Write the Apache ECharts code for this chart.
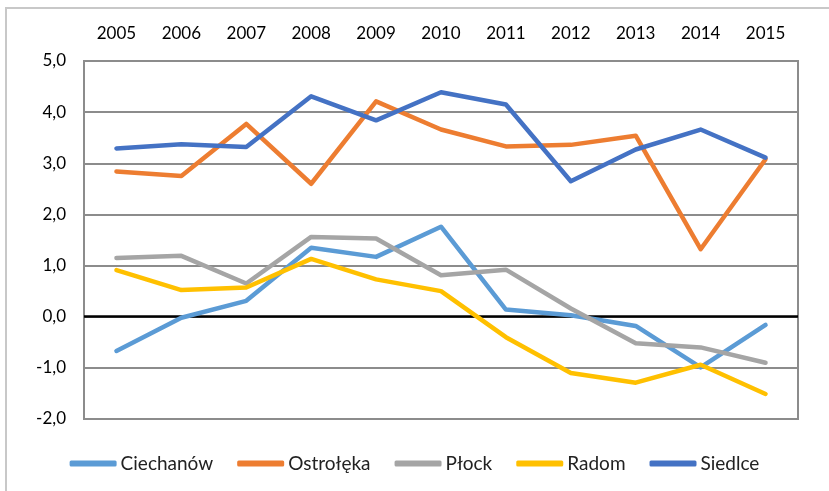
<!DOCTYPE html>
<html><head><meta charset="utf-8">
<script src="https://cdn.jsdelivr.net/npm/echarts@6/dist/echarts.min.js"></script>
<style>html,body{margin:0;padding:0;background:#fff}#c{width:829px;height:491px}</style>
</head><body><div id="c"></div>
<script>
const years = ['2005','2006','2007','2008','2009','2010','2011','2012','2013','2014','2015'];
const ciechanow = [-0.67,-0.02,0.31,1.35,1.17,1.76,0.14,0.03,-0.18,-0.99,-0.16];
const ostroleka = [2.84,2.75,3.77,2.60,4.21,3.66,3.33,3.36,3.54,1.32,3.08];
const plock = [1.15,1.19,0.65,1.56,1.53,0.81,0.92,0.16,-0.52,-0.60,-0.90];
const radom = [0.91,0.52,0.57,1.13,0.73,0.50,-0.40,-1.10,-1.29,-0.94,-1.51];
const siedlce = [3.29,3.37,3.32,4.31,3.84,4.39,4.15,2.65,3.27,3.66,3.11];
const names = ['Ciechanów','Ostrołęka','Płock','Radom','Siedlce'];
const colors = ['#5B9BD5','#ED7D31','#A5A5A5','#FFC000','#4472C4'];
const values = [ciechanow, ostroleka, plock, radom, siedlce];
const FONT = 'Lato';
const chart = echarts.init(document.getElementById('c'));
const series = names.map((n,i)=>({
  name:n, type:'line', data:values[i], showSymbol:false, symbol:'none',
  lineStyle:{width:4.5, color:colors[i], cap:'round', join:'round'}, itemStyle:{color:colors[i]},
  z: 3,
  markLine: i===0 ? {silent:true, symbol:'none', label:{show:false}, lineStyle:{color:'#000', width:2.5, type:'solid'}, data:[{yAxis:0}], z:2} : undefined
}));
chart.setOption({
  animation:false,
  graphic:[{type:'rect', shape:{x:6,y:8,width:840,height:500}, style:{fill:'none', stroke:'#c8c8c8', lineWidth:2}, silent:true}],
  grid:{left:84, right:31, top:61, bottom:72, show:true, borderColor:'#8c8c8c', borderWidth:2, backgroundColor:'transparent'},
  legend:{top:449, left:'center', itemGap:24, itemWidth:47, itemHeight:6, icon:'roundRect',
    textStyle:{fontFamily:FONT, fontSize:19, color:'#222', padding:[0,0,0,-1]}, data:names},
  xAxis:{type:'category', data:years, position:'top', boundaryGap:true,
    axisLine:{show:false}, axisTick:{show:false},
    axisLabel:{fontFamily:FONT, fontSize:17, color:'#000', margin:19}},
  yAxis:{type:'value', min:-2, max:5, interval:1,
    axisLine:{show:false}, axisTick:{show:false},
    splitLine:{lineStyle:{color:'#8c8c8c', width:2}},
    axisLabel:{fontFamily:FONT, fontSize:17, color:'#000', margin:18,
      formatter:v=>v.toFixed(1).replace('.',',')}},
  series: series
});
</script></body></html>
